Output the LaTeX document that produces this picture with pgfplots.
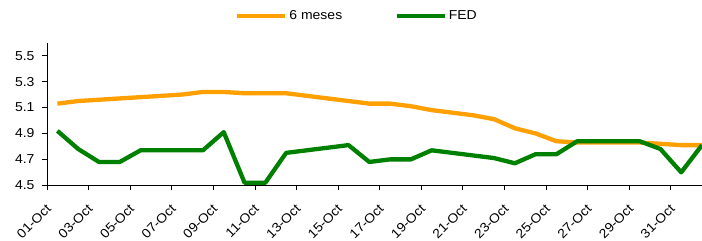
\documentclass[border=0pt]{standalone}
\usepackage{fontspec}
\setmainfont{Liberation Sans}[FakeStretch=1.08]
\usepackage{pgfplots}
\pgfplotsset{compat=1.18}
\definecolor{orng}{RGB}{255,160,0}
\definecolor{grn}{RGB}{0,128,0}
\begin{document}
\begin{tikzpicture}
\useasboundingbox (-47bp,-55.7bp) rectangle (655bp,185.3bp);
\begin{axis}[
  at={(0,0)}, anchor=south west,
  scale only axis,
  width=655bp, height=142.6bp,
  xmin=-0.5, xmax=31,
  ymin=4.5, ymax=5.6,
  axis x line*=bottom, axis y line*=left,
  axis line style={-, black, line width=0.8pt},
  ytick={4.5,4.7,...,5.5},
  yticklabel style={/pgf/number format/fixed, /pgf/number format/fixed zerofill, /pgf/number format/precision=1, xshift=-4bp},
  /pgf/number format/assume math mode=true,
  ytick style={black, line width=0.8pt},
  tick align=outside,
  major tick length=5bp,
  xtick={0,2,...,30},
  xticklabels={01-Oct,03-Oct,05-Oct,07-Oct,09-Oct,11-Oct,13-Oct,15-Oct,17-Oct,19-Oct,21-Oct,23-Oct,25-Oct,27-Oct,29-Oct,31-Oct},
  xtick style={draw=none},
  xticklabel style={xshift=-12bp, yshift=-8bp, rotate=45, anchor=north east},
  extra x ticks={-0.5,1.5,...,29.5},
  extra x tick labels={},
  extra x tick style={xtick style={draw=black, line width=0.8pt}},
  tick label style={font=\fontsize{13}{15}\selectfont},
  clip=false,
  legend columns=2,
  legend style={draw=none, fill=none, at={(0.473,1.187)}, anchor=center,
    font=\fontsize{13}{15}\selectfont,
    /tikz/every even column/.append style={column sep=50bp},
    inner sep=0pt},
  legend image code/.code={\draw[#1, line width=4.5bp] (0bp,0bp) -- (48bp,0bp);},
]
\addplot[orng, line width=4.3bp, line join=round] coordinates {
(0,5.13) (1,5.15) (2,5.16) (3,5.17) (4,5.18) (5,5.19) (6,5.20) (7,5.22) (8,5.22)
(9,5.21) (10,5.21) (11,5.21) (12,5.19) (13,5.17) (14,5.15) (15,5.13) (16,5.13)
(17,5.11) (18,5.08) (19,5.06) (20,5.04) (21,5.01) (22,4.94) (23,4.90) (24,4.84)
(25,4.83) (26,4.83) (27,4.83) (28,4.83) (29,4.82) (30,4.81) (31,4.81)};
\addlegendentry{6 meses}
\addplot[grn, line width=4.3bp, line join=round] coordinates {
(0,4.92) (1,4.78) (2,4.68) (3,4.68) (4,4.77) (5,4.77) (6,4.77) (7,4.77) (8,4.91)
(9,4.52) (10,4.52) (11,4.75) (12,4.77) (13,4.79) (14,4.81) (15,4.68) (16,4.70)
(17,4.70) (18,4.77) (19,4.75) (20,4.73) (21,4.71) (22,4.67) (23,4.74) (24,4.74)
(25,4.84) (26,4.84) (27,4.84) (28,4.84) (29,4.78) (30,4.60) (31,4.81)};
\addlegendentry{FED}
\end{axis}
\end{tikzpicture}
\end{document}
